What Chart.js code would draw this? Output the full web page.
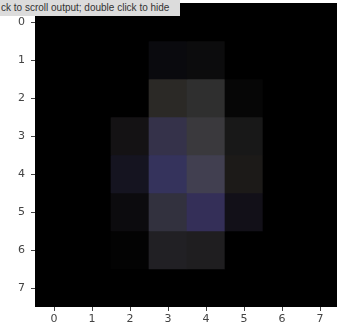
<!DOCTYPE html>
<html>
<head>
<meta charset="utf-8">
<script src="https://cdn.jsdelivr.net/npm/chart.js@4/dist/chart.umd.min.js"></script>
<style>
  html, body { margin: 0; padding: 0; background: #fff; overflow: hidden; }
  #wrap { position: relative; width: 345px; height: 331px; }
  #hint {
    position: absolute; left: 0; top: 0; width: 180px; height: 16px;
    background: #dcdcdc; color: #333; font: 10px "Liberation Sans", sans-serif;
    line-height: 16px; white-space: nowrap; overflow: hidden; padding-left: 1px;
    box-sizing: border-box;
  }
</style>
</head>
<body>
<div id="wrap">
  <canvas id="img" width="345" height="331"></canvas>
  <div id="hint">ck to scroll output; double click to hide</div>
</div>
<script>
const colLabels = ['0', '1', '2', '3', '4', '5', '6', '7'];
const rowLabels = [0, 1, 2, 3, 4, 5, 6, 7];

// pixel colours, one array per image row
const row0 = ['#000000', '#000000', '#000000', '#000000', '#000000', '#000000', '#000000', '#000000'];
const row1 = ['#000000', '#000000', '#000000', '#0a0a0e', '#0c0c0d', '#000000', '#000000', '#000000'];
const row2 = ['#000000', '#000000', '#000000', '#2b2926', '#2f2f2f', '#060606', '#000000', '#000000'];
const row3 = ['#000000', '#000000', '#141214', '#35324a', '#3a393d', '#181818', '#000000', '#000000'];
const row4 = ['#000000', '#000000', '#151420', '#35335c', '#413f50', '#1c1a18', '#000000', '#000000'];
const row5 = ['#000000', '#000000', '#0c0b0e', '#32313e', '#342f58', '#121018', '#000000', '#000000'];
const row6 = ['#000000', '#000000', '#030303', '#212024', '#1f1e20', '#000000', '#000000', '#000000'];
const row7 = ['#000000', '#000000', '#000000', '#000000', '#000000', '#000000', '#000000', '#000000'];
const pixelRows = [row0, row1, row2, row3, row4, row5, row6, row7];

const datasets = pixelRows.map((colors, r) => ({
    data: colLabels.map(() => [rowLabels[r] - 0.5, rowLabels[r] + 0.5]),
    backgroundColor: colors,
    borderWidth: 0,
    barPercentage: 1,
    categoryPercentage: 1
}));

const tickFont = { family: 'DejaVu Sans', size: 11 };

new Chart(document.getElementById('img'), {
    type: 'bar',
    data: { labels: colLabels, datasets },
    options: {
        responsive: false,
        animation: false,
        layout: { padding: { top: 3, right: 6, left: 0, bottom: 0 } },
        plugins: { legend: { display: false }, tooltip: { enabled: false } },
        scales: {
            x: {
                stacked: true,
                grid: { offset: false, drawOnChartArea: false, tickLength: 4, color: '#444' },
                border: { display: false },
                ticks: { color: '#444', font: tickFont, padding: 2, maxRotation: 0 },
                afterFit: s => { s.height = 24; s.paddingLeft = 0; s.paddingRight = 0; }
            },
            y: {
                type: 'linear',
                reverse: true,
                min: -0.5,
                max: 7.5,
                afterBuildTicks: s => { s.ticks = rowLabels.map(v => ({ value: v })); },
                grid: { drawOnChartArea: false, tickLength: 4, color: '#444' },
                border: { display: false },
                ticks: { color: '#444', font: tickFont, padding: 6 },
                afterFit: s => { s.width = 35; s.paddingTop = 0; s.paddingBottom = 0; }
            }
        }
    }
});
</script>
</body>
</html>
